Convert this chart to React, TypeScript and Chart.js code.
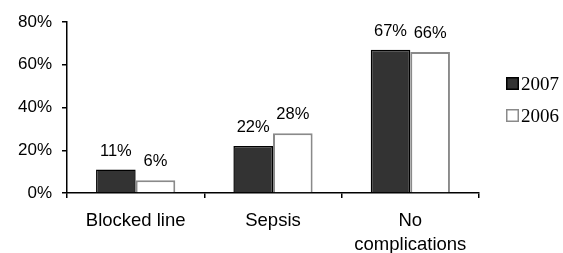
import React, { useEffect, useRef } from "react";
import { Chart, registerables } from "chart.js";

Chart.register(...registerables);

const categories: (string | string[])[] = ["Blocked line", "Sepsis", ["No", "complications"]];
const series2007 = [11, 22, 67];
const series2006 = [6, 28, 66];
const seriesLabels = ["2007", "2006"];
const yTicks = [0, 20, 40, 60, 80];

const FONT = "'Liberation Sans', Arial, Helvetica, sans-serif";

const valueLabels = {
  id: "valueLabels",
  afterDatasetsDraw(chart: any) {
    const ctx = chart.ctx;
    ctx.save();
    ctx.font = `16.5px ${FONT}`;
    ctx.fillStyle = "#000";
    ctx.textAlign = "center";
    ctx.textBaseline = "bottom";
    chart.data.datasets.forEach((ds: any, di: number) => {
      const meta = chart.getDatasetMeta(di);
      meta.data.forEach((bar: any, i: number) => {
        ctx.fillText(`${ds.data[i]}%`, bar.x, bar.y - 10);
      });
    });
    ctx.restore();
  },
};

const sideLegend = {
  id: "sideLegend",
  afterDraw(chart: any) {
    const ctx = chart.ctx;
    const x = chart.chartArea.right + 27;
    const y0 = 77;
    ctx.save();
    ctx.font = `19px 'Liberation Serif', 'Times New Roman', serif`;
    ctx.textBaseline = "middle";
    ctx.textAlign = "left";
    chart.data.datasets.forEach((ds: any, i: number) => {
      const y = y0 + i * 32;
      ctx.fillStyle = ds.backgroundColor;
      ctx.fillRect(x, y, 13, 13);
      ctx.lineWidth = 1.5;
      ctx.strokeStyle = ds.borderColor;
      ctx.strokeRect(x + 0.75, y + 0.75, 11.5, 11.5);
      ctx.fillStyle = "#000";
      ctx.fillText(ds.label, x + 15, y + 8);
    });
    ctx.restore();
  },
};

export default function App() {
  const ref = useRef<HTMLCanvasElement>(null);
  useEffect(() => {
    if (!ref.current) return;
    const chart = new Chart(ref.current, {
      type: "bar",
      data: {
        labels: categories,
        datasets: [
          {
            label: seriesLabels[0],
            data: series2007,
            backgroundColor: "#333333",
            borderColor: "#000000",
            borderWidth: 1.5,
          },
          {
            label: seriesLabels[1],
            data: series2006,
            backgroundColor: "#ffffff",
            borderColor: "#8a8a8a",
            borderWidth: 2,
          },
        ],
      },
      options: {
        animation: false,
        responsive: true,
        maintainAspectRatio: false,
        layout: { padding: { top: 22, right: 84, left: 0, bottom: 0 } },
        plugins: { legend: { display: false }, tooltip: { enabled: false } },
        datasets: { bar: { categoryPercentage: 0.577, barPercentage: 1 } },
        scales: {
          x: {
            grid: { offset: true, drawOnChartArea: false, tickLength: 5, color: "#000", lineWidth: 1.5 },
            border: { color: "#000", width: 1.5 },
            ticks: { color: "#000", font: { family: FONT, size: 18.5, lineHeight: 1.3 }, padding: 11, maxRotation: 0 },
            afterFit: (s: any) => { s.height = 60; },
          },
          y: {
            min: 0,
            max: 80,
            afterBuildTicks: (s: any) => { s.ticks = yTicks.map((v) => ({ value: v })); },
            grid: { drawOnChartArea: false, tickLength: 5, color: "#000", lineWidth: 1.5 },
            border: { color: "#000", width: 1.5 },
            ticks: { color: "#000", font: { family: FONT, size: 17 }, padding: 10, callback: (v: any) => `${v}%` },
            afterFit: (s: any) => { s.width = 67; },
          },
        },
      },
      plugins: [valueLabels, sideLegend],
    });
    return () => chart.destroy();
  }, []);
  return (
    <div style={{ position: "fixed", left: 0, top: 0, width: 563, height: 253, background: "#fff" }}>
      <canvas ref={ref} />
    </div>
  );
}
